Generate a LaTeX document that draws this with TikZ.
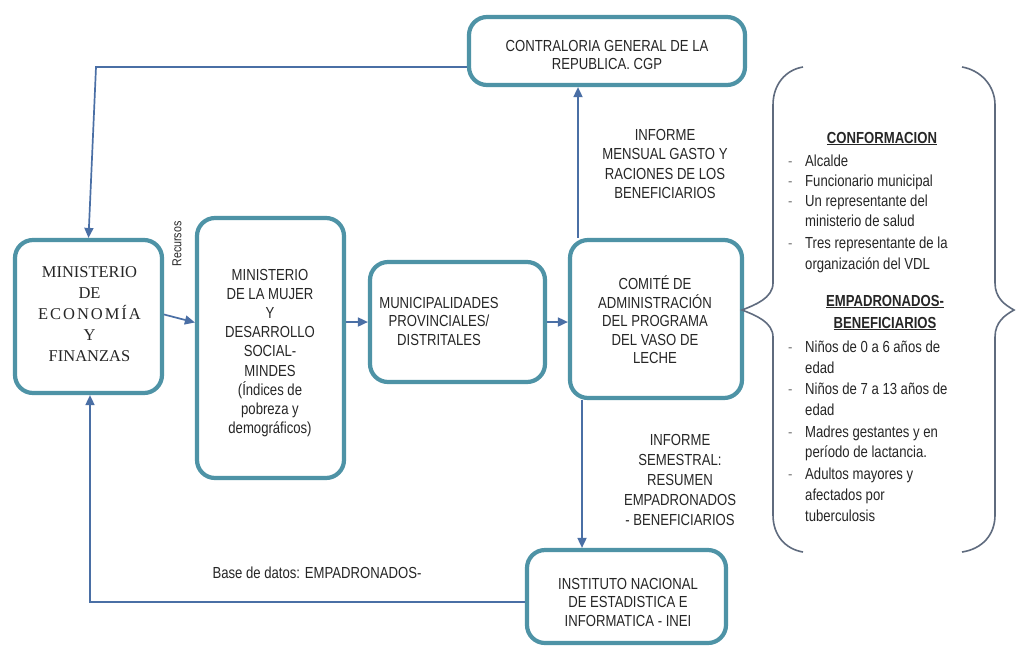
\documentclass[tikz,border=0pt]{standalone}
\usepackage{fontspec}
\setmainfont{Liberation Sans}[FakeStretch=0.82]
\newfontfamily\tmsf{Liberation Serif}
\usetikzlibrary{arrows.meta}
\definecolor{boxc}{HTML}{4E93A6}
\definecolor{arrc}{HTML}{4A6FA5}
\definecolor{brc}{HTML}{5F6B7E}
\definecolor{txt}{HTML}{262626}
\newcommand\lbul{\makebox[17pt][l]{\textcolor{gray}{-}}}
\newcommand\lind{\hspace*{17pt}}
\begin{document}
\begin{tikzpicture}[x=1pt,y=-1pt,
  box/.style={draw=boxc, line width=4.2pt, rounded corners=18pt, fill=white, inner sep=0pt},
  lbl/.style={text=txt, align=center, font=\fontsize{16}{18.5}\selectfont, inner sep=0pt},
  serif/.style={text=txt, align=center, font=\tmsf\fontsize{16.5}{21}\selectfont, inner sep=0pt},
  item/.style={text=txt, anchor=base west, inner sep=0pt, font=\fontsize{16}{18}\selectfont},
  head/.style={text=txt, anchor=base, inner sep=0pt, font=\bfseries\fontsize{16}{18}\selectfont},
  flow/.style={draw=arrc, line width=1.7pt, -{Triangle[length=10pt,width=9pt]}},
  brace/.style={draw=brc, line width=1.6pt}
]
\path[use as bounding box, fill=white] (0,0) rectangle (1016,646);

% boxes
\node[box, minimum width=276pt, minimum height=68pt] (cgp) at (607,51) {};
\node[lbl] (cgpt) at (607,55) {CONTRALORIA GENERAL DE LA\\REPUBLICA. CGP};

\node[box, minimum width=147pt, minimum height=153pt] (mef) at (88.5,316.5) {};
\node[serif] (meft) at (89.5,314) {MINISTERIO\\DE\\{\addfontfeature{LetterSpace=12}ECONOMÍA}\\Y\\FINANZAS};

\node[box, minimum width=147pt, minimum height=260pt] (mimdes) at (270.5,348) {};
\node[lbl, font=\fontsize{16}{19.1}\selectfont] (mimdest) at (270,353) {MINISTERIO\\DE LA MUJER\\Y\\DESARROLLO\\SOCIAL-\\MINDES\\(Índices de\\pobreza y\\demográficos)};

\node[box, minimum width=175pt, minimum height=120pt] (muni) at (457.5,322) {};
\node[lbl] (munit) at (439,321) {MUNICIPALIDADES\\PROVINCIALES/\\DISTRITALES};

\node[box, minimum width=172pt, minimum height=158pt] (comite) at (656,319) {};
\node[lbl] (comitet) at (655,320) {COMITÉ DE\\ADMINISTRACIÓN\\DEL PROGRAMA\\DEL VASO DE\\LECHE};

\node[box, minimum width=199pt, minimum height=93pt] (inei) at (626.5,596.5) {};
\node[lbl] (ineit) at (628,602) {INSTITUTO NACIONAL\\DE ESTADISTICA E\\INFORMATICA - INEI};

% connectors
\coordinate (t1) at (96,67);
\draw[flow] ([yshift=-16pt]cgp.west) -- (t1) -- (mef.north);
\draw[flow] ([yshift=2pt]mef.east) -- ([yshift=-6pt]mef.east -| mimdes.west);
\draw[flow] (mimdes.east |- muni.west) -- (muni.west);
\draw[flow] (muni.east) -- (muni.east -| comite.west);
\draw[flow] ([xshift=-78pt]comite.north) -- ([xshift=-78pt]comite.north |- cgp.south);
\draw[flow] ([xshift=-74pt]comite.south) -- ([xshift=-74pt]comite.south |- inei.north);
\coordinate (b1) at (90,602);
\draw[flow] ([yshift=-5.5pt]inei.west) -- (b1) -- (b1 |- mef.south);

% connector labels
\node[lbl, rotate=90, font=\fontsize{13}{15}\selectfont] (rec) at (177,244) {Recursos};
\node[lbl, font=\fontsize{16}{19.5}\selectfont] (inf1) at (665,164) {INFORME\\MENSUAL GASTO Y\\RACIONES DE LOS\\BENEFICIARIOS};
\node[lbl, font=\fontsize{16}{20}\selectfont] (inf2) at (680,480) {INFORME\\SEMESTRAL:\\RESUMEN\\EMPADRONADOS\\- BENEFICIARIOS};
\node[lbl] (bdd) at (317,573) {Base de datos: EMPADRONADOS-};

% braces
\draw[brace] (803,67) .. controls (785,70) and (773,85) .. (773,105) -- (773,283)
  .. controls (773,298) and (755,305) .. (742,310)
  .. controls (755,315) and (773,322) .. (773,337) -- (773,515)
  .. controls (773,535) and (785,549) .. (803,552);
\draw[brace] (962,67) .. controls (980,70) and (995,85) .. (995,105) -- (995,283)
  .. controls (995,298) and (1005,305) .. (1014,310)
  .. controls (1005,315) and (995,322) .. (995,337) -- (995,515)
  .. controls (995,535) and (982,549) .. (962,552);

% brace contents
\node[head] (h1) at (882,143) {\underline{CONFORMACION}};
\node[item] (a1) at (788,166) {\lbul Alcalde};
\node[item] (a2) at (788,186) {\lbul Funcionario municipal};
\node[item] (a3) at (788,206) {\lbul Un representante del};
\node[item] (a4) at (788,226) {\lind ministerio de salud};
\node[item] (a5) at (788,248) {\lbul Tres representante de la};
\node[item] (a6) at (788,269) {\lind organización del VDL};
\node[head] (h2) at (885,306) {\underline{EMPADRONADOS-}};
\node[head] (h3) at (885,328) {\underline{BENEFICIARIOS}};
\node[item] (e1) at (788,352) {\lbul Niños de 0 a 6 años de};
\node[item] (e2) at (788,373) {\lind edad};
\node[item] (e3) at (788,394) {\lbul Niños de 7 a 13 años de};
\node[item] (e4) at (788,415) {\lind edad};
\node[item] (e5) at (788,437) {\lbul Madres gestantes y en};
\node[item] (e6) at (788,457) {\lind período de lactancia.};
\node[item] (e7) at (788,479) {\lbul Adultos mayores y};
\node[item] (e8) at (788,500) {\lind afectados por};
\node[item] (e9) at (788,521) {\lind tuberculosis};
\end{tikzpicture}
\end{document}
